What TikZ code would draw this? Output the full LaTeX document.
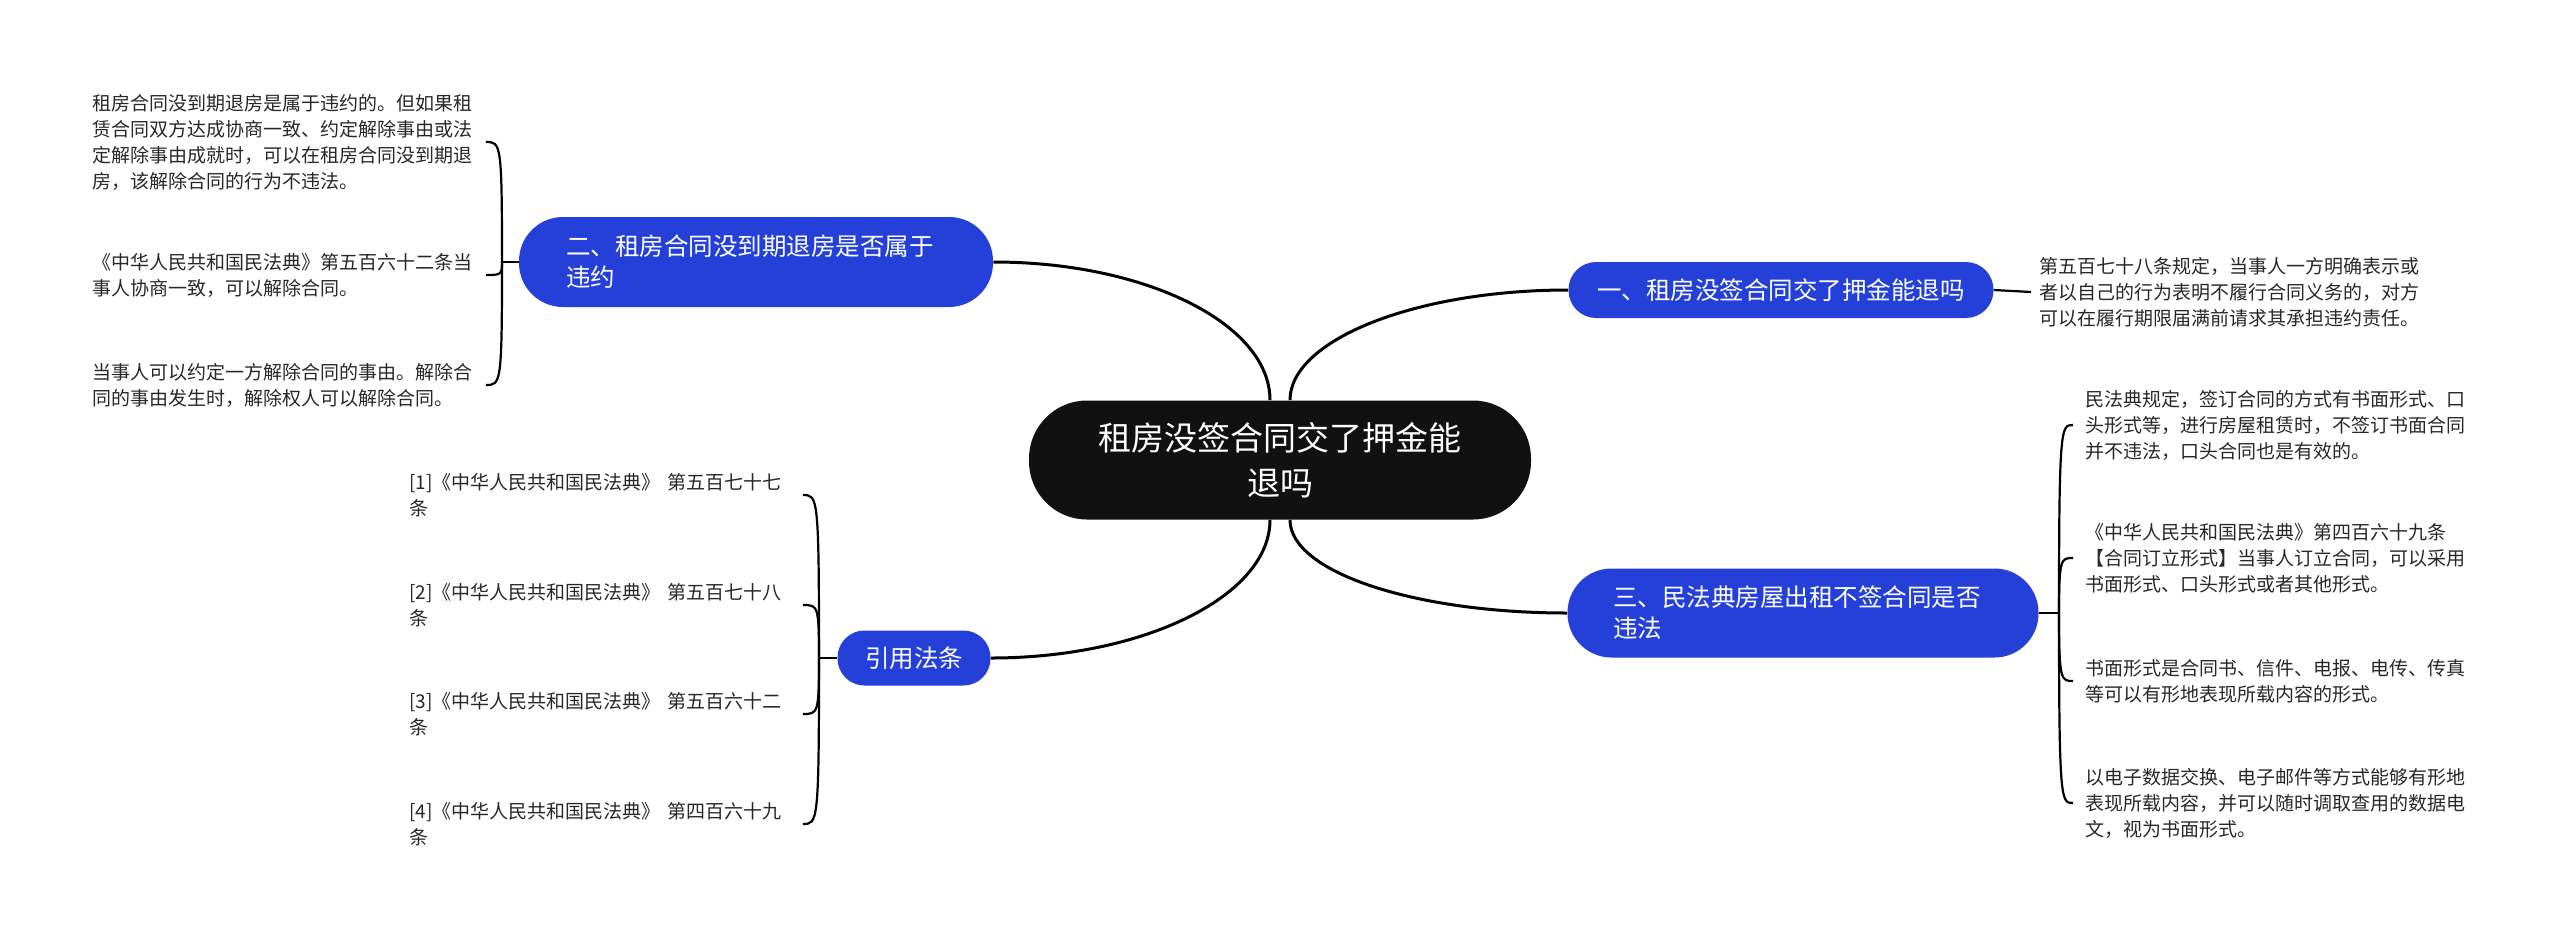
\documentclass[tikz,border=0pt]{standalone}
\usepackage{fontspec}
\setmainfont{Noto Sans CJK SC}
\definecolor{nodeblue}{RGB}{37,64,217}
\definecolor{centralblack}{RGB}{17,17,17}
\definecolor{leafgray}{RGB}{40,40,40}
\begin{document}
\begin{tikzpicture}[x=0.5pt,y=-0.5pt,
  link/.style={line width=1.5pt, black},
  brace/.style={line width=1.1pt, black},
  topic/.style={fill=nodeblue, text=white, inner sep=0pt, font=\fontsize{12.25}{15.5}\selectfont},
  leaf/.style={anchor=west, align=left, inner sep=0pt, text=leafgray, font=\fontsize{9.5}{13}\selectfont},
]
\fill[white] (0,0) rectangle (2560,938);
\useasboundingbox (0,0) rectangle (2560,938);

% central
\node[fill=centralblack, text=white, rounded corners=29pt, minimum width=251pt, minimum height=59.5pt,
      align=center, inner sep=0pt, font=\fontsize{16.5}{22.5}\selectfont] (c) at (1280,460) {租房没签合同交了押金能\\退吗};

% topics
\node[topic, rounded corners=13.8pt, minimum width=212.5pt, minimum height=28pt] (one) at (1781,290) {一、租房没签合同交了押金能退吗};
\node[topic, rounded corners=22pt, minimum width=237pt, minimum height=45pt, text width=190pt, align=left] (two) at (756,262) {二、租房合同没到期退房是否属于\\违约};
\node[topic, rounded corners=22pt, minimum width=235.5pt, minimum height=44.5pt, text width=190pt, align=left] (three) at (1803,613) {三、民法典房屋出租不签合同是否\\违法};
\node[topic, rounded corners=13.5pt, minimum width=76.5pt, minimum height=27.5pt] (refs) at (914,658) {引用法条};

% leaves of one
\node[leaf, text width=192pt] (o1) at (2039,292) {第五百七十八条规定，当事人一方明确表示或\\者以自己的行为表明不履行合同义务的，对方\\可以在履行期限届满前请求其承担违约责任。};

% leaves of two
\node[leaf, text width=190pt] (l1) at (92,142) {租房合同没到期退房是属于违约的。但如果租\\赁合同双方达成协商一致、约定解除事由或法\\定解除事由成就时，可以在租房合同没到期退\\房，该解除合同的行为不违法。};
\node[leaf, text width=190pt] (l2) at (92,275) {《中华人民共和国民法典》第五百六十二条当\\事人协商一致，可以解除合同。};
\node[leaf, text width=190pt] (l3) at (92,385) {当事人可以约定一方解除合同的事由。解除合\\同的事由发生时，解除权人可以解除合同。};

% leaves of three
\node[leaf, text width=192pt] (t1) at (2085,425) {民法典规定，签订合同的方式有书面形式、口\\头形式等，进行房屋租赁时，不签订书面合同\\并不违法，口头合同也是有效的。};
\node[leaf, text width=192pt] (t2) at (2085,558) {《中华人民共和国民法典》第四百六十九条\\【合同订立形式】当事人订立合同，可以采用\\书面形式、口头形式或者其他形式。};
\node[leaf, text width=192pt] (t3) at (2085,681) {书面形式是合同书、信件、电报、电传、传真\\等可以有形地表现所载内容的形式。};
\node[leaf, text width=192pt] (t4) at (2085,803) {以电子数据交换、电子邮件等方式能够有形地\\表现所载内容，并可以随时调取查用的数据电\\文，视为书面形式。};

% reference leaves
\node[leaf, text width=186pt] (r1) at (409,495) {[1]《中华人民共和国民法典》 第五百七十七\\条};
\node[leaf, text width=186pt] (r2) at (409,605) {[2]《中华人民共和国民法典》 第五百七十八\\条};
\node[leaf, text width=186pt] (r3) at (409,714) {[3]《中华人民共和国民法典》 第五百六十二\\条};
\node[leaf, text width=186pt] (r4) at (409,824) {[4]《中华人民共和国民法典》 第四百六十九\\条};

% main connectors
\draw[link] ([xshift=-5pt]c.north) .. controls +(0,-76) and +(153,0) .. (two.east);
\draw[link] ([xshift=5pt]c.north) .. controls +(0,-60) and +(-153,0) .. (one.west);
\draw[link] ([xshift=-5pt]c.south) .. controls +(0,76) and +(153,0) .. (refs.east);
\draw[link] ([xshift=5pt]c.south) .. controls +(0,52) and +(-153,0) .. (three.west);

% one -> leaf
\draw[brace] (one.east) -- ([xshift=-4pt]o1.west);

% braces
\coordinate (j2) at (502,262);
\coordinate (j3) at (2059,613);
\coordinate (j4) at (819,658);

\draw[brace] (two.west) -- (j2);
\foreach \n in {l1,l2,l3}{
  \draw[brace] (j2) .. controls (j2 |- \n.east) and ([xshift=14pt]\n.east) .. ([xshift=6.5pt]\n.east);
}
\draw[brace] (three.east) -- (j3);
\foreach \n in {t1,t2,t3,t4}{
  \draw[brace] (j3) .. controls (j3 |- \n.west) and ([xshift=-12pt]\n.west) .. ([xshift=-6pt]\n.west);
}
\draw[brace] (refs.west) -- (j4);
\foreach \n in {r1,r2,r3,r4}{
  \draw[brace] (j4) .. controls (j4 |- \n.east) and ([xshift=18pt]\n.east) .. ([xshift=10.5pt]\n.east);
}
\end{tikzpicture}
\end{document}
